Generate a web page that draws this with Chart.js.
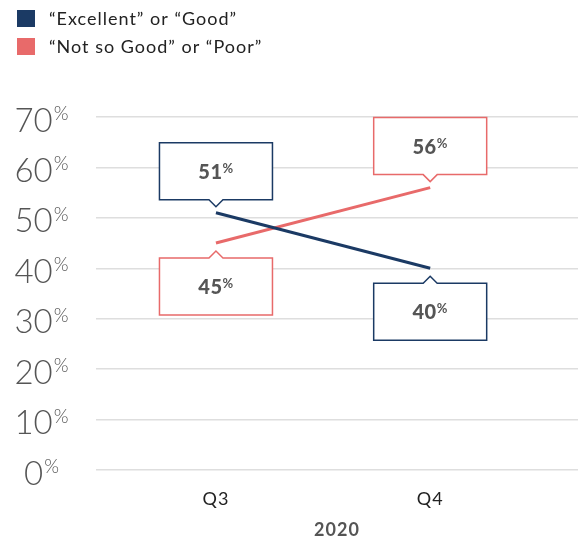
<!DOCTYPE html>
<html>
<head>
<meta charset="utf-8">
<script src="https://cdn.jsdelivr.net/npm/chart.js@4"></script>
<style>
  html, body { margin: 0; padding: 0; background: #fff; }
</style>
</head>
<body>
<canvas id="chart" width="578" height="542"></canvas>
<script>
// data
const categories = ['Q3', 'Q4'];
const goodValues = [51, 40];
const poorValues = [45, 56];
const seriesNames = ['“Excellent” or “Good”', '“Not so Good” or “Poor”'];
const yTicks = [0, 10, 20, 30, 40, 50, 60, 70];
const axisTitle = '2020';

const navy = '#1b3a64';
const coral = '#e86a6a';
const FONT = 'Lato, "Noto Sans", sans-serif';

// a touch of tracking so Lato reads closer to the wide original face
const tracking = {
  id: 'tracking',
  beforeDraw(chart) { chart.ctx.letterSpacing = '1px'; }
};

// legend drawn as two stacked rows at top left
const stackedLegend = {
  id: 'stackedLegend',
  afterDraw(chart) {
    const ctx = chart.ctx;
    ctx.save();
    ctx.letterSpacing = '1px';
    chart.data.datasets.forEach((ds, i) => {
      const y = 10 + i * 28;
      ctx.fillStyle = ds.borderColor;
      ctx.fillRect(17, y, 18, 17);
      ctx.fillStyle = '#222';
      ctx.font = '18px ' + FONT;
      ctx.textBaseline = 'middle';
      ctx.fillText(ds.label, 49, y + 9);
    });
    ctx.restore();
  }
};

// big y labels with a small raised % sign
const yLabels = {
  id: 'yLabels',
  afterDraw(chart) {
    const ctx = chart.ctx;
    const scale = chart.scales.y;
    ctx.save();
    ctx.letterSpacing = '0px';
    ctx.fillStyle = '#555';
    ctx.textBaseline = 'alphabetic';
    scale.ticks.forEach(t => {
      const py = scale.getPixelForValue(t.value);
      const num = String(t.value);
      ctx.font = '300 33px ' + FONT;
      const wn = ctx.measureText(num).width;
      ctx.font = '300 19px ' + FONT;
      const wp = ctx.measureText('%').width;
      const x0 = 41 - (wn + wp) / 2;
      ctx.font = '300 33px ' + FONT;
      ctx.fillText(num, x0, py + 14.5);
      ctx.font = '300 19px ' + FONT;
      ctx.fillText('%', x0 + wn + 1, py + 3);
    });
    ctx.restore();
  }
};

function drawCallout(ctx, px, py, above, color, value) {
  const W = 113, H = 57, PW = 7, PH = 7, GAP = 6;
  let top;
  ctx.beginPath();
  if (above) {
    const tip = py - GAP, bot = tip - PH;
    top = bot - H;
    ctx.moveTo(px - W / 2, top);
    ctx.lineTo(px + W / 2, top);
    ctx.lineTo(px + W / 2, bot);
    ctx.lineTo(px + PW, bot);
    ctx.lineTo(px, tip);
    ctx.lineTo(px - PW, bot);
    ctx.lineTo(px - W / 2, bot);
  } else {
    const tip = py + GAP + 2, tp = tip + PH;
    top = tp;
    ctx.moveTo(px - W / 2, tp);
    ctx.lineTo(px - PW, tp);
    ctx.lineTo(px, tip);
    ctx.lineTo(px + PW, tp);
    ctx.lineTo(px + W / 2, tp);
    ctx.lineTo(px + W / 2, tp + H);
    ctx.lineTo(px - W / 2, tp + H);
  }
  ctx.closePath();
  ctx.fillStyle = '#fff';
  ctx.fill();
  ctx.strokeStyle = color;
  ctx.lineWidth = 1.5;
  ctx.stroke();

  const cy = top + H / 2;
  const num = String(value);
  ctx.letterSpacing = '0.5px';
  ctx.fillStyle = '#555';
  ctx.textBaseline = 'alphabetic';
  ctx.font = '900 20px ' + FONT;
  const wn = ctx.measureText(num).width;
  ctx.font = 'bold 13px ' + FONT;
  const wp = ctx.measureText('%').width;
  const x0 = px - (wn + wp) / 2;
  ctx.font = '900 20px ' + FONT;
  ctx.fillText(num, x0, cy + 7.5);
  ctx.font = 'bold 13px ' + FONT;
  ctx.fillText('%', x0 + wn, cy + 1.5);
}

const callouts = {
  id: 'callouts',
  afterDatasetsDraw(chart) {
    const ctx = chart.ctx;
    ctx.save();
    chart.data.datasets.forEach((ds, di) => {
      const meta = chart.getDatasetMeta(di);
      meta.data.forEach((pt, i) => {
        const v = ds.data[i].y;
        const others = chart.data.datasets.filter((d, j) => j !== di).map(d => d.data[i].y);
        const above = others.every(o => v >= o);
        drawCallout(ctx, pt.x, pt.y, above, ds.borderColor, v);
      });
    });
    ctx.restore();
  }
};

new Chart(document.getElementById('chart'), {
  type: 'line',
  data: {
    datasets: [
      {
        label: seriesNames[0],
        data: goodValues.map((v, i) => ({ x: i, y: v })),
        borderColor: navy,
        backgroundColor: navy,
        borderWidth: 3,
        pointRadius: 0
      },
      {
        label: seriesNames[1],
        data: poorValues.map((v, i) => ({ x: i, y: v })),
        borderColor: coral,
        backgroundColor: coral,
        borderWidth: 3,
        pointRadius: 0
      }
    ]
  },
  options: {
    responsive: false,
    animation: false,
    layout: { padding: { top: 117, right: 0, bottom: 0, left: 0 } },
    scales: {
      x: {
        type: 'linear',
        min: -0.56,
        max: 1.69,
        grid: { display: false },
        border: { display: false },
        afterBuildTicks: s => { s.ticks = categories.map((c, i) => ({ value: i })); },
        afterFit: s => { s.height = 72; },
        ticks: {
          callback: v => categories[v],
          color: '#222',
          font: { family: FONT, size: 18 },
          padding: 10,
          maxRotation: 0,
          autoSkip: false
        },
        title: {
          display: true,
          text: axisTitle,
          color: '#555',
          font: { family: FONT, size: 18, weight: 'bold' },
          padding: { top: 0, bottom: 1 }
        }
      },
      y: {
        min: 0,
        max: 70,
        afterBuildTicks: s => { s.ticks = yTicks.map(v => ({ value: v })); },
        afterFit: s => { s.width = 96; },
        ticks: { display: false },
        grid: { color: '#dedede', lineWidth: 1.5, drawTicks: false },
        border: { display: false }
      }
    },
    plugins: {
      legend: { display: false },
      tooltip: { enabled: false }
    }
  },
  plugins: [tracking, stackedLegend, yLabels, callouts]
});
</script>
</body>
</html>
